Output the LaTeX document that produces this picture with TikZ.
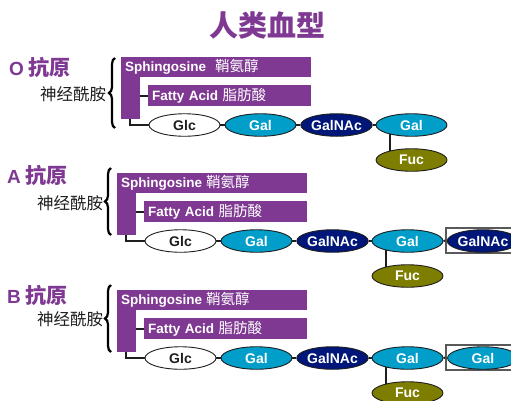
\documentclass[tikz,border=0pt]{standalone}
\usepackage{fontspec}
\setmainfont{Liberation Sans}
\newfontfamily\cjk{Noto Sans CJK SC}
\usetikzlibrary{shapes.geometric,decorations.pathreplacing}
\definecolor{purp}{RGB}{127,57,146}
\definecolor{galc}{RGB}{0,158,200}
\definecolor{navyc}{RGB}{0,22,120}
\definecolor{olivec}{RGB}{125,125,0}
\definecolor{linec}{RGB}{30,30,30}
\pgfdeclarelayer{bg}
\pgfsetlayers{bg,main}
\tikzset{
  barbox/.style={fill=purp, text=white, anchor=west, inner xsep=4pt, inner ysep=0pt,
    align=left, font=\fontsize{13.5}{14}\selectfont\bfseries},
  sugar/.style={ellipse, draw=linec, line width=0.9pt, minimum width=71pt, minimum height=22.5pt,
    inner sep=0pt, font=\fontsize{14}{14}\selectfont\bfseries},
  glcs/.style={sugar, fill=white, text=linec},
  gals/.style={sugar, fill=galc, text=white},
  galnacs/.style={sugar, fill=navyc, text=white},
  fucs/.style={sugar, fill=olivec, text=white},
  conn/.style={draw=linec, line width=2pt},
  framebox/.style={draw=black!65, line width=1.4pt, minimum width=78pt, minimum height=25pt, inner sep=0pt},
  antlabel/.style={anchor=west, text=purp, inner sep=0pt},
  cerlabel/.style={anchor=west, text=linec, inner sep=0pt, font=\cjk\fontsize{16.5}{17}\selectfont},
  bracestyle/.style={draw=black, line width=2.2pt, decorate, decoration={brace, amplitude=6pt}}
}
\newcommand\lipid[4]{%
  \begin{scope}[shift={(#2,#3)}]
    \fill[purp] (117,173) rectangle (136,235);
    \node[barbox, text width=182pt, minimum height=20pt] (#1s) at (117,183)
      {Sphingosine#4{\cjk\mdseries\fontsize{14.5}{14}\selectfont 鞘氨醇}};
    \node[barbox, text width=155pt, minimum height=21pt] (#1fa) at (144,211.5)
      {Fatty Acid {\cjk\mdseries\fontsize{14.5}{14}\selectfont 脂肪酸}};
    \node[glcs] (#1glc) at (180.5,241) {Glc};
    \node[gals] (#1ga) at (256.5,241) {Gal};
    \node[galnacs] (#1gn) at (332.5,241) {GalNAc};
    \node[gals] (#1gb) at (407.5,241) {Gal};
    \node[fucs] (#1fuc) at (407.5,276) {Fuc};
    \begin{pgfonlayer}{bg}
      \draw[conn] (136,211.5) -- (#1fa.west);
      \draw[conn] (126,234) |- (#1glc.west);
      \draw[conn] (#1glc.east) -- (#1ga.west);
      \draw[conn] (#1ga.east) -- (#1gn.west);
      \draw[conn] (#1gn.east) -- (#1gb.west);
      \draw[conn] ([xshift=-22pt]#1gb.center) -- ([xshift=-22pt]#1fuc.center);
    \end{pgfonlayer}
  \end{scope}}
\newcommand\terminal[5]{%
  \begin{scope}[shift={(#2,#3)}]
    \node[framebox] (#1box) at (485,240.5) {};
    \node[#4] (#1t) at (483,241) {#5};
    \draw[conn] (#1gb.east) -- (#1box.west);
  \end{scope}}
\begin{document}
\begin{tikzpicture}[x=1pt,y=-1pt]
\useasboundingbox (0,0) rectangle (511,400);
\clip (0,0) rectangle (511,400);
\node[text=purp, inner sep=0pt, font=\cjk\bfseries\fontsize{29}{29}\selectfont] (title) at (267.5,25) {人类血型};
% O
\node[antlabel] (olab) at (9,67.5) {\fontsize{19}{20}\selectfont\bfseries O\hspace{5pt}{\cjk\fontsize{21}{21}\selectfont 抗原}};
\node[cerlabel] (ocer) at (40,94) {神经酰胺};
\draw[bracestyle] (115,128) -- (115,58);
\lipid{o}{4}{-116}{\hspace{9pt}}
% A
\node[antlabel] (alab) at (7,175) {\fontsize{19}{20}\selectfont\bfseries A\hspace{5pt}{\cjk\fontsize{21}{21}\selectfont 抗原}};
\node[cerlabel] (acer) at (37,203) {神经酰胺};
\draw[bracestyle] (111,235) -- (111,168);
\lipid{a}{0}{0}{\hspace{4pt}}
\terminal{a}{0}{0}{galnacs}{GalNAc}
% B
\node[antlabel] (blab) at (7,295) {\fontsize{19}{20}\selectfont\bfseries B\hspace{5pt}{\cjk\fontsize{21}{21}\selectfont 抗原}};
\node[cerlabel] (bcer) at (37,319) {神经酰胺};
\draw[bracestyle] (111,352) -- (111,285);
\lipid{b}{0}{117}{\hspace{4pt}}
\terminal{b}{0}{117}{gals}{Gal}
\end{tikzpicture}
\end{document}
